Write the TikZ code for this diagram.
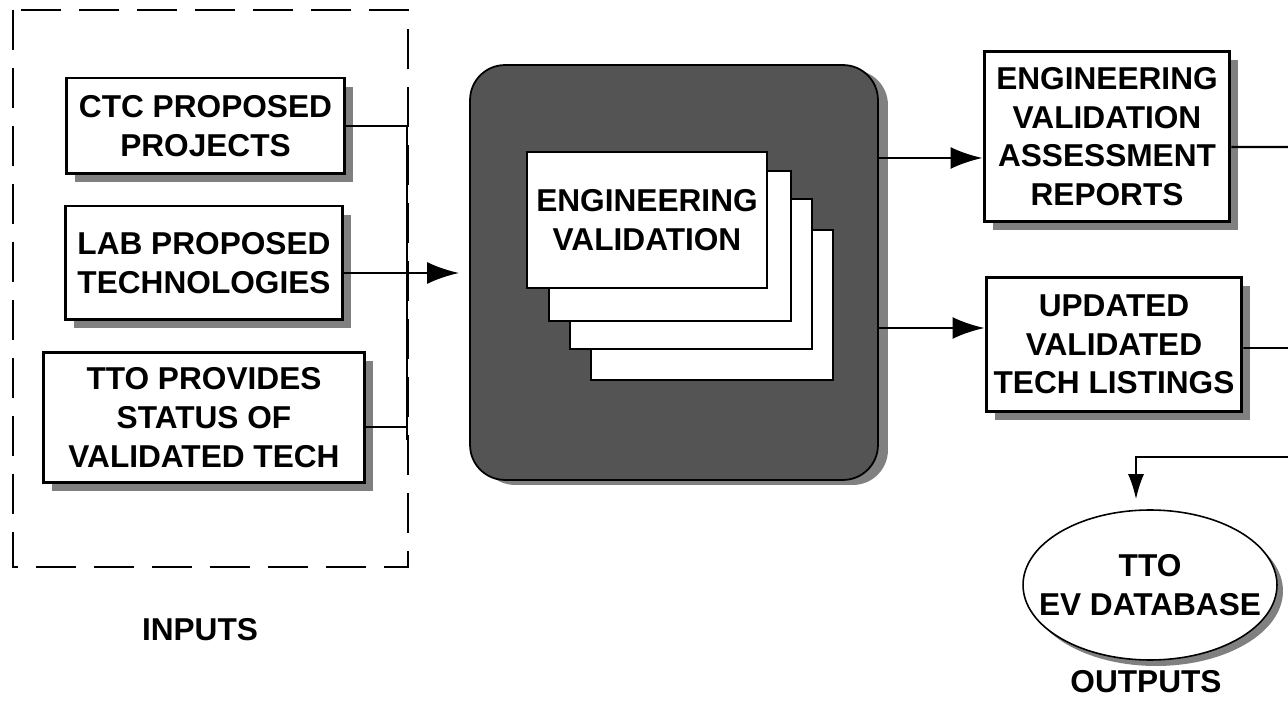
\documentclass[tikz,border=0pt]{standalone}
\usepackage{fontspec}
\setmainfont{Liberation Sans}
\usepackage{xcolor}
\usetikzlibrary{
  arrows.meta,
  positioning,
  shapes.geometric,
  shadows
}

\begin{document}
\begin{tikzpicture}[
  x=0.02cm, y=-0.02cm,
  every node/.style={font=\fontsize{18}{22}\selectfont\bfseries, align=center},
  box/.style={rectangle, draw=black, line width=1.7pt, fill=white, inner sep=2pt,
    drop shadow={shadow xshift=0.17cm, shadow yshift=-0.17cm, fill=shade, opacity=1}},
  evbox/.style={rectangle, rounded corners=0.7cm, draw=black, line width=1pt, fill=evfill,
    minimum width=8.16cm, minimum height=8.3cm,
    drop shadow={shadow xshift=0.2cm, shadow yshift=-0.1cm, fill=shade, opacity=1}},
  card/.style={rectangle, draw=black, line width=1.5pt, fill=white,
    minimum width=4.84cm, minimum height=3cm},
  conn/.style={line width=1.6pt},
  arr/.style={line width=1.6pt, -{Latex[length=6.4mm, width=4.4mm]}},
  thin/.style={line width=1.1pt},
  lab/.style={font=\fontsize{18}{22}\selectfont\bfseries}
]
  % grey tones of the original print
  \definecolor{shade}{gray}{0.5}
  \definecolor{evfill}{gray}{0.33}

  \useasboundingbox (0,0) rectangle (1288,715);

  % dashed frame round the inputs
  \draw[line width=1.1pt, dash pattern=on 0.8cm off 0.36cm] (13,10) rectangle (408,567);

  % inputs
  \node[box, minimum width=5.58cm, minimum height=1.92cm] (ctc) at (205.5,126) {CTC PROPOSED\\PROJECTS};
  \node[box, minimum width=5.56cm, minimum height=2.28cm] (lab) at (204,263) {LAB PROPOSED\\TECHNOLOGIES};
  \node[box, minimum width=6.44cm, minimum height=2.62cm] (tto) at (204,417.5) {TTO PROVIDES\\STATUS OF\\VALIDATED TECH};

  % engineering validation block with stacked sheets
  \node[evbox] (ev) at (674,272.5) {};
  \foreach \i/\cx/\cy in {4/712/305, 3/691/274, 2/670/246}{
    \node[card] (c\i) at (\cx,\cy) {};
  }
  \node[card, minimum width=4.8cm, minimum height=2.72cm] (c1) at (647,220) {ENGINEERING\\VALIDATION};

  % outputs
  \node[box, minimum width=4.92cm, minimum height=3.42cm] (rep) at (1107,136.5) {ENGINEERING\\VALIDATION\\ASSESSMENT\\REPORTS};
  \node[box, minimum width=5.12cm, minimum height=2.7cm] (upd) at (1114,344.5) {UPDATED\\VALIDATED\\TECH LISTINGS};
  \node[ellipse, draw=black, line width=0.9pt, fill=white, minimum width=5.08cm, minimum height=3cm,
    drop shadow={shadow xshift=0.12cm, shadow yshift=-0.12cm, fill=shade, opacity=1}] (db) at (1150,585) {};
  \node[lab] (dbtxt) at (db) {TTO\\EV DATABASE};

  % labels
  \node[lab] (inlab) at (200,630) {INPUTS};
  \node[lab] (outlab) at (1146,682) {OUTPUTS};

  % input bus
  \coordinate (busbot) at (407,440);
  \draw[conn] (ctc.east) -| (busbot);
  \draw[conn] ([yshift=-0.2cm]lab.east) -- ([yshift=-0.2cm]lab.east -| busbot);
  \draw[conn] ([yshift=-0.19cm]tto.east) -- ([yshift=-0.19cm]tto.east -| busbot);
  \draw[arr, shorten >=0.2cm] ([yshift=-0.2cm]lab.east -| busbot) -- ([yshift=-0.2cm]lab.east -| ev.west);

  % into the outputs
  \coordinate (repin) at ([yshift=-0.43cm]rep.west);
  \coordinate (updin) at ([yshift=0.33cm]upd.west);
  \draw[arr] (repin -| ev.east) -- (repin);
  \draw[arr] (updin -| ev.east) -- (updin);

  % return line to the database
  \coordinate (redge) at (1300,147);
  \coordinate (uedge) at (1300,348);
  \coordinate (dedge) at (1300,457);
  \draw[line width=1.3pt] ([yshift=-0.21cm]rep.east) -- (redge) -- (dedge);
  \draw[thin] ([yshift=-0.07cm]upd.east) -- (uedge);
  \draw[thin, -{Latex[length=5mm, width=3.2mm]}, shorten >=0.2cm] (dedge) -| ([xshift=-0.28cm]db.north);

\end{tikzpicture}
\end{document}
